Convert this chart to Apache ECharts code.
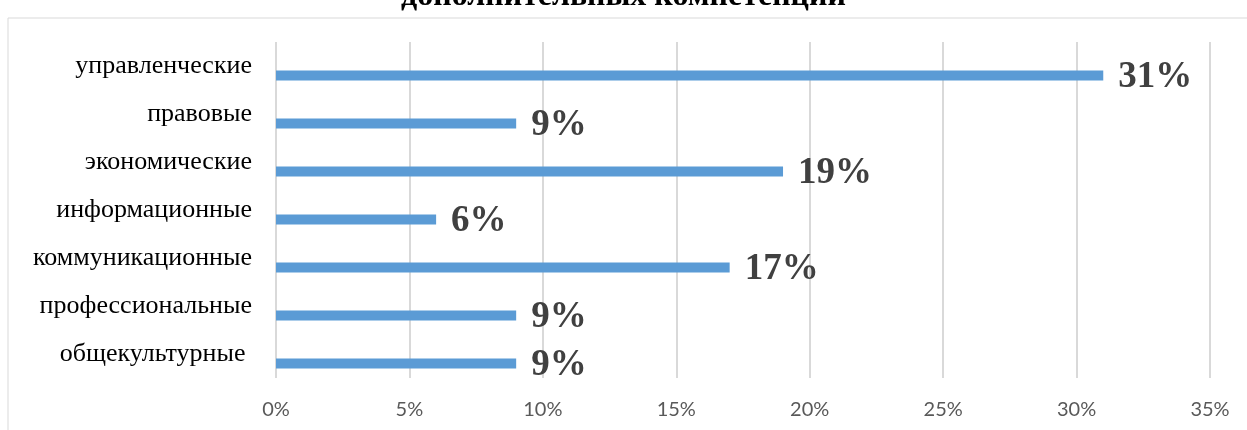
<!DOCTYPE html>
<html>
<head>
<meta charset="utf-8">
<script src="https://cdn.jsdelivr.net/npm/echarts@6/dist/echarts.min.js"></script>
<style>
    html, body { margin: 0; padding: 0; background: #fff; }
    #chart { width: 1247px; height: 430px; }
</style>
</head>
<body>
<div id="chart"></div>
<script>
// 数据
let categories = ['управленческие', 'правовые', 'экономические', 'информационные', 'коммуникационные', 'профессиональные', 'общекультурные ']
let values = [31, 9, 19, 6, 17, 9, 9]
let titleText = 'дополнительных компетенций'

let myChart = echarts.init(document.getElementById('chart'))
myChart.setOption({
    backgroundColor: '#ffffff',
    // 标题（上半部分被裁掉）
    title: {
        text: titleText,
        left: 'center',
        top: -24,
        textStyle: {
            fontFamily: 'Liberation Serif',
            fontWeight: 'bold',
            fontSize: 32,
            color: '#000'
        }
    },
    // 外框
    graphic: [
        {
            type: 'rect',
            shape: { x: 8, y: 18, width: 1300, height: 500 },
            style: { fill: 'none', stroke: '#d9d9d9', lineWidth: 1 },
            silent: true
        }
    ],
    grid: {
        left: 276,
        right: 37,
        top: 42,
        bottom: 52
    },
    xAxis: {
        type: 'value',
        min: 0,
        max: 35,
        interval: 5,
        axisLine: { show: false },
        axisTick: { show: false },
        axisLabel: {
            formatter: '{value}%',
            fontFamily: 'Lato',
            fontSize: 20,
            color: '#595959',
            margin: 22
        },
        splitLine: {
            lineStyle: { color: '#d9d9d9', width: 2 }
        }
    },
    yAxis: {
        type: 'category',
        data: categories,
        inverse: true,
        axisLine: { show: false },
        axisTick: { show: false },
        axisLabel: {
            fontFamily: 'Liberation Serif',
            fontSize: 26,
            color: '#000',
            margin: 24,
            padding: [5, 0, 0, 0]
        }
    },
    series: [
        {
            // 空系列，用于让柱子偏离类目中心
            type: 'bar',
            data: values.map(() => '-'),
            barWidth: 10,
            barGap: '90%'
        },
        {
            type: 'bar',
            data: values,
            barWidth: 10,
            barGap: '90%',
            itemStyle: { color: '#5b9bd5' },
            label: {
                show: true,
                position: 'right',
                distance: 15,
                offset: [0, 2],
                formatter: '{c}%',
                fontFamily: 'Liberation Serif',
                fontWeight: 'bold',
                fontSize: 37,
                color: '#404040'
            }
        }
    ]
})
</script>
</body>
</html>
